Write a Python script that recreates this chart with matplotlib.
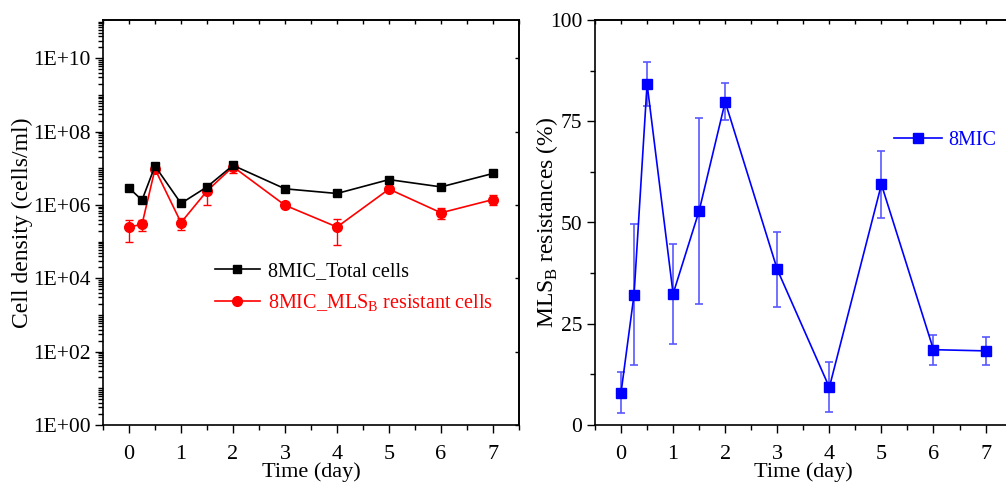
import math
import matplotlib
matplotlib.use("Agg")
import matplotlib.pyplot as plt
from matplotlib.ticker import FixedLocator, FuncFormatter, LogLocator, MultipleLocator, NullFormatter

plt.rcParams['font.family'] = ['Liberation Serif', 'DejaVu Serif']
plt.rcParams['mathtext.fontset'] = 'custom'
plt.rcParams['mathtext.rm'] = 'Liberation Serif'

# time points (day)
days = [0, 0.25, 0.5, 1, 1.5, 2, 3, 4, 5, 6, 7]

# left panel: cell density (cells/ml)
total_cells = [2.9e6, 1.35e6, 1.15e7, 1.1e6, 3.1e6, 1.2e7, 2.75e6, 2.05e6, 4.9e6, 3.1e6, 7.2e6]
resist_cells = [2.5e5, 2.95e5, 9.5e6, 3.3e5, 2.4e6, 1.1e7, 9.8e5, 2.5e5, 2.7e6, 6.1e5, 1.4e6]
resist_err = [1.5e5, 1.05e5, 1.0e6, 1.2e5, 1.4e6, 3.8e6, 1.0e5, 1.7e5, 3.0e5, 1.9e5, 4.2e5]

# right panel: MLS_B resistance (%)
resist_pct = [8.0, 32.2, 84.2, 32.4, 52.9, 79.8, 38.4, 9.3, 59.4, 18.6, 18.3]
resist_pct_err = [5.0, 17.4, 5.4, 12.4, 23.0, 4.6, 9.2, 6.2, 8.3, 3.7, 3.4]

W, H = 1006, 488
fig = plt.figure(figsize=(W / 100, H / 100), dpi=100)
ax1 = fig.add_axes([103 / W, (H - 425) / H, 416 / W, 405 / H])
ax2 = fig.add_axes([595 / W, (H - 425) / H, 416.6 / W, 405 / H])

fs = 16

#left panel
ax1.plot(days, total_cells, color='black', lw=1.2, marker='s', ms=5.5, zorder=3,
         label='8MIC_Total cells')
ax1.errorbar(days, resist_cells, yerr=resist_err, fmt='none', ecolor='red', elinewidth=1,
             capsize=3, capthick=1, zorder=2)
ax1.plot(days, resist_cells, color='red', lw=1.2, marker='o', ms=7, zorder=2,
         label=r'8MIC_MLS$_\mathrm{B}$ resistant cells')
ax1.set_yscale('log')
ax1.set_ylim(1, 1.1e11)
ax1.set_xlim(-0.5, 7.5)
ax1.yaxis.set_major_locator(FixedLocator([1, 1e2, 1e4, 1e6, 1e8, 1e10]))
ax1.yaxis.set_major_formatter(FuncFormatter(lambda v, p: '1E+%02d' % round(math.log10(v))))
ax1.yaxis.set_minor_locator(LogLocator(base=10, subs=range(1, 10), numticks=100))
ax1.yaxis.set_minor_formatter(NullFormatter())
ax1.set_ylabel('Cell density (cells/ml)', fontsize=17, labelpad=0)
leg = ax1.legend(loc='center left', bbox_to_anchor=(0.27, 0.338), frameon=False,
                 fontsize=14.5, handlelength=2.2, handletextpad=0.4, labelspacing=0.55,
                 borderaxespad=0, borderpad=0)
for t, c in zip(leg.get_texts(), ['black', 'red']):
    t.set_color(c)

#right panel
ax2.errorbar(days, resist_pct, yerr=resist_pct_err, fmt='none', ecolor=(0.35, 0.35, 1.0),
             elinewidth=1.2, capsize=3, capthick=1.2)
ax2.plot(days, resist_pct, color='blue', lw=1.2, marker='s', ms=6.5, label='8MIC')
ax2.set_ylim(0, 100)
ax2.set_xlim(-0.5, 7.5)
ax2.yaxis.set_major_locator(MultipleLocator(25))
ax2.yaxis.set_minor_locator(MultipleLocator(12.5))
ax2.set_ylabel(r'MLS$_\mathrm{B}$ resistances (%)', fontsize=17, labelpad=-7)
leg2 = ax2.legend(loc='center left', bbox_to_anchor=(0.718, 0.703), frameon=False,
                  fontsize=14.5, handlelength=2.4, handletextpad=0.3,
                  borderaxespad=0, borderpad=0)
for t in leg2.get_texts():
    t.set_color('blue')

for ax in (ax1, ax2):
    ax.xaxis.set_major_locator(MultipleLocator(1))
    ax.xaxis.set_minor_locator(MultipleLocator(0.5))
    ax.set_xlabel('Time (day)', fontsize=fs, labelpad=-1)
    ax.tick_params(which='both', direction='out', width=1)
    ax.tick_params(axis='x', labelsize=fs, pad=8.5)
    ax.tick_params(axis='y', labelsize=15.5, pad=3)
    ax.tick_params(which='major', length=6)
    ax.tick_params(which='minor', length=3.5)
    for sp in ax.spines.values():
        sp.set_linewidth(1.2)

    # short inward ticks on top and right
    top = ax.secondary_xaxis('top')
    top.xaxis.set_major_locator(MultipleLocator(0.5))
    top.tick_params(direction='in', length=3, labeltop=False, width=1)
    right = ax.secondary_yaxis('right')
    right.tick_params(which='both', direction='in', length=3, labelright=False, width=1)
    right.yaxis.set_major_formatter(NullFormatter())
    right.yaxis.set_minor_formatter(NullFormatter())
    for sp in list(top.spines.values()) + list(right.spines.values()):
        sp.set_linewidth(1.2)

fig.savefig('out.png', dpi=100)
